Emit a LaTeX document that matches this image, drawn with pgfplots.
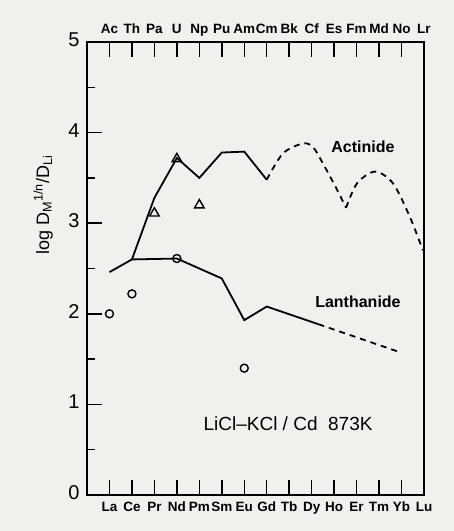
\documentclass[border=0pt]{standalone}
\usepackage{pgfplots}
\pgfplotsset{compat=1.18}
\usetikzlibrary{backgrounds}
\usepackage{fontspec}
\setmainfont{Liberation Sans}
\definecolor{bgcol}{RGB}{240,240,238}
\begin{document}
\begin{tikzpicture}
\path (-87pt,-36pt) rectangle (367pt,495pt);
\begin{axis}[
  scale only axis, width=337pt, height=453pt,
  xmin=0, xmax=15, ymin=0, ymax=5,
  axis line style={line width=1.8pt},
  xtick pos=bottom, ytick pos=left,
  major tick length=15pt, minor tick length=8pt,
  major tick style={line width=1.5pt, black},
  minor tick style={line width=1.5pt, black},
  typeset ticklabels with strut,
  xtick={1,...,15},
  xticklabels={La,Ce,Pr,Nd,Pm,Sm,Eu,Gd,Tb,Dy,Ho,Er,Tm,Yb,Lu},
  xticklabel style={font=\fontsize{13.5}{15}\selectfont\bfseries, yshift=-2pt},
  ytick={0,1,2,3,4,5}, minor y tick num=1,
  yticklabel style={font=\fontsize{20}{22}\selectfont, xshift=-4pt},
  /pgf/number format/assume math mode=true,
  ylabel={log D\textsubscript{M}\textsuperscript{1/n}/D\textsubscript{Li}},
  ylabel style={font=\fontsize{18}{21}\selectfont, at={(axis description cs:-0.13,0.64)}, anchor=center},
]
% Actinide solid
\addplot[black, line width=1.8pt] coordinates {(2,2.60) (3,3.28) (4,3.72) (5,3.50) (6,3.78) (7,3.79) (8,3.48)};
% Actinide dashed
\addplot[black, line width=1.8pt, dash pattern=on 6pt off 5pt, smooth] coordinates {(8,3.48) (8.72,3.77) (9.61,3.88) (10.06,3.84) (10.5,3.66) (11.13,3.37) (11.53,3.17)};
\addplot[black, line width=1.8pt, dash pattern=on 6pt off 5pt, smooth] coordinates {(11.53,3.17) (12.02,3.44) (12.82,3.57) (13.62,3.44) (14.37,3.07) (14.95,2.70)};
% Lanthanide solid
\addplot[black, line width=1.8pt] coordinates {(1,2.46) (2,2.60) (4,2.61) (6,2.39) (7,1.93) (8,2.08) (10.3,1.885)};
\addplot[black, line width=1.8pt, dash pattern=on 6pt off 5pt] coordinates {(10.3,1.885) (14,1.57)};
% circles
\addplot[only marks, mark=o, mark size=4pt, mark options={black, line width=1.4pt, fill=bgcol}] coordinates {(1,2.00) (2,2.22) (4,2.61) (7,1.40)};
% triangles
\addplot[only marks, mark=triangle, mark size=5.5pt, mark options={black, line width=1.4pt, fill=bgcol}] coordinates {(3,3.11) (4,3.71) (5,3.20)};
\node[font=\fontsize{16}{19}\selectfont\bfseries] at (axis cs:12.28,3.84) {Actinide};
\node[font=\fontsize{16}{19}\selectfont\bfseries] at (axis cs:12.06,2.13) {Lanthanide};
\node[font=\fontsize{19}{22}\selectfont] at (axis cs:8.95,0.79) {LiCl--KCl / Cd\ \ 873K};
\end{axis}
\begin{axis}[
  scale only axis, width=337pt, height=453pt,
  xmin=0, xmax=15, ymin=0, ymax=5,
  hide y axis, xtick pos=top, xticklabel pos=top,
  axis line style={draw=none},
  major tick length=15pt,
  major tick style={line width=1.5pt, black},
  typeset ticklabels with strut,
  xtick={1,...,15},
  xticklabels={Ac,Th,Pa,U,Np,Pu,Am,Cm,Bk,Cf,Es,Fm,Md,No,Lr},
  xticklabel style={font=\fontsize{13.5}{15}\selectfont\bfseries},
]
\end{axis}
\begin{scope}[on background layer]
\fill[bgcol] (-87pt,-36pt) rectangle (367pt,495pt);
\end{scope}
\end{tikzpicture}
\end{document}
